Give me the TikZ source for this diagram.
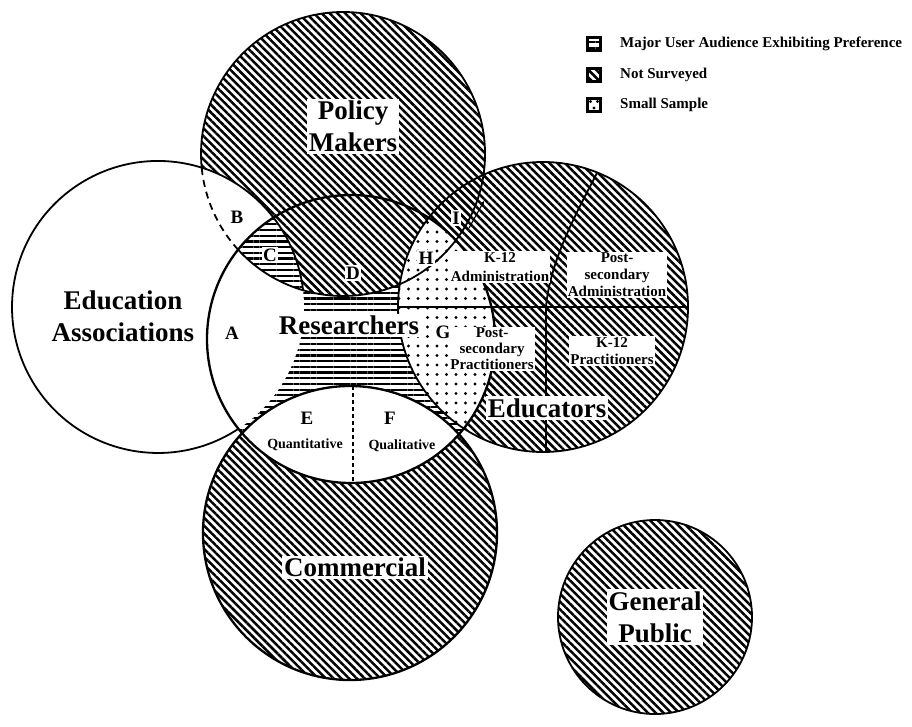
\documentclass[tikz,border=0pt]{standalone}
\usepackage{fontspec}
\setmainfont{Liberation Serif}
\usetikzlibrary{patterns.meta,arrows.meta}
\tikzset{
  hatch/.style={pattern={Lines[angle=-45,distance=5.5pt,line width=2.5pt]}},
  hstripe/.style={pattern={Lines[angle=0,distance=5.7pt,line width=2.2pt]}},
  dotfill/.style={pattern={Dots[distance=9.5pt,radius=1.7pt]}},
  outline/.style={line width=1.8pt},
  resline/.style={line width=2.3pt},
  bigl/.style={font=\fontsize{27}{32}\selectfont\bfseries, align=center, inner sep=2pt},
  bigw/.style={bigl, fill=white},
  smalll/.style={font=\fontsize{15}{17}\selectfont\bfseries, align=center, inner sep=1pt, fill=white},
  letterl/.style={font=\fontsize{19}{21}\selectfont\bfseries, inner sep=1.5pt},
  legicon/.style={draw, line width=2.2pt, minimum size=13pt, inner sep=0pt},
  legtext/.style={font=\fontsize{15}{17}\selectfont\bfseries, anchor=west, inner sep=0pt},
}
\begin{document}
\begin{tikzpicture}[x=1pt,y=-1pt]
\useasboundingbox (0,0) rectangle (912,726);
% ---------- fills ----------
\fill[hatch] (343,154) circle[radius=142];
\fill[hatch] (543,307) circle[radius=145];
\fill[hatch] (350,533) circle[radius=147];
\fill[hatch] (655,617) circle[radius=97];
\fill[white] (158,307) circle[radius=146];
\fill[white] (351,339) circle[radius=144];
\fill[hstripe] (351,339) circle[radius=144];
\begin{scope}
  \clip (351,339) circle[radius=144];
  \fill[white] (343,154) circle[radius=142];
  \fill[hatch] (343,154) circle[radius=142];
  \fill[white] (158,307) circle[radius=146];
  \begin{scope}
    \clip (158,307) circle[radius=146];
    \fill[hstripe] (343,154) circle[radius=142];
  \end{scope}
  \fill[white] (543,307) circle[radius=145];
  \fill[dotfill] (543,307) circle[radius=145];
  \fill[white] (350,533) circle[radius=147];
\end{scope}
% ---------- outlines ----------
\draw[outline] (238.6,428.7) arc[start angle=56.5,end angle=322.2,radius=146];
\draw[outline] (273.4,217.5) arc[start angle=-37.8,end angle=-6.69,radius=146];
\draw[outline, dash pattern=on 7pt off 5pt] (238.2,249.8) arc[start angle=137.56,end angle=174.46,radius=142];
\draw[outline] (201.7,167.7) arc[start angle=174.46,end angle=497.56,radius=142];
\draw[resline] (351,339) circle[radius=144];
\draw[outline] (543,307) circle[radius=145];
\draw[resline] (350,533) circle[radius=147];
\draw[outline] (655,617) circle[radius=97];
% educators subdivisions
\coordinate (ul) at (398,307);
\coordinate (ur) at (688,307);
\coordinate (dtop) at (597,173);
\coordinate (dmid) at (546,307);
\coordinate (dbot) at (546,452);
\draw[outline] (ul) -- (ur);
\draw[outline] (dtop) .. controls (578,210) and (550,260) .. (dmid) -- (dbot);
% quantitative / qualitative divider
\coordinate (eftop) at (353,386);
\coordinate (efbot) at (353,483);
\draw[line width=1.6pt, dash pattern=on 4pt off 3pt] (eftop) -- (efbot);
% small arrow at I
\coordinate (ia) at (469,228);
\coordinate (ib) at (484,201);
\draw[line width=1.1pt, -{Stealth[length=4pt,width=4pt]}] (ia) -- (ib);
% ---------- labels ----------
\node[bigw] (pm) at (353,126) {Policy\\Makers};
\node[bigl] (ea) at (123,316) {Education\\Associations};
\node[bigw] (rs) at (349,325) {Researchers};
\node[bigw] (ed) at (547,408) {Educators};
\node[bigw] (cm) at (355,567) {Commercial};
\node[bigw] (gp) at (655,617) {General\\Public};
\node[letterl] (la) at (232,333) {A};
\node[letterl] (lb) at (237,217) {B};
\node[letterl, fill=white] (lc) at (270,255) {C};
\node[letterl, fill=white] (ld) at (353,273) {D};
\node[letterl] (le) at (307,418) {E};
\node[letterl] (lf) at (390,418) {F};
\node[letterl, fill=white] (lg) at (443,332) {G};
\node[letterl, fill=white] (lh) at (426,258) {H};
\node[letterl, fill=white] (li) at (456,218) {I};
\node[font=\fontsize{14}{16}\selectfont\bfseries, inner sep=1pt] (qn) at (305,445) {Quantitative};
\node[font=\fontsize{14}{16}\selectfont\bfseries, inner sep=1pt] (ql) at (402,446) {Qualitative};
\node[smalll, font=\fontsize{15}{19}\selectfont\bfseries] (ka) at (500,267) {K-12\\Administration};
\node[smalll] (pa) at (617,275) {Post-\\secondary\\Administration};
\node[smalll, font=\fontsize{15}{16}\selectfont\bfseries] (pp) at (492,349) {Post-\\secondary\\Practitioners};
\node[smalll] (kp) at (612,351) {K-12\\Practitioners};
% ---------- legend ----------
\node[legicon, fill=white] (i1) at (594,44) {};
\fill[hstripe] (i1.south west) rectangle (i1.north east);
\node[legicon] at (i1) {};
\node[legicon, fill=white] (i2) at (594,75) {};
\fill[hatch] (i2.south west) rectangle (i2.north east);
\node[legicon] at (i2) {};
\node[legicon, fill=white] (i3) at (594,105) {};
\fill (590.5,101.5) circle[radius=1.7] (597.5,101.5) circle[radius=1.7] (594,108) circle[radius=1.7];
\node[legtext] (t1) at (620,44) {Major User Audience Exhibiting Preference};
\node[legtext] (t2) at (620,75) {Not Surveyed};
\node[legtext] (t3) at (620,105) {Small Sample};
\end{tikzpicture}
\end{document}
